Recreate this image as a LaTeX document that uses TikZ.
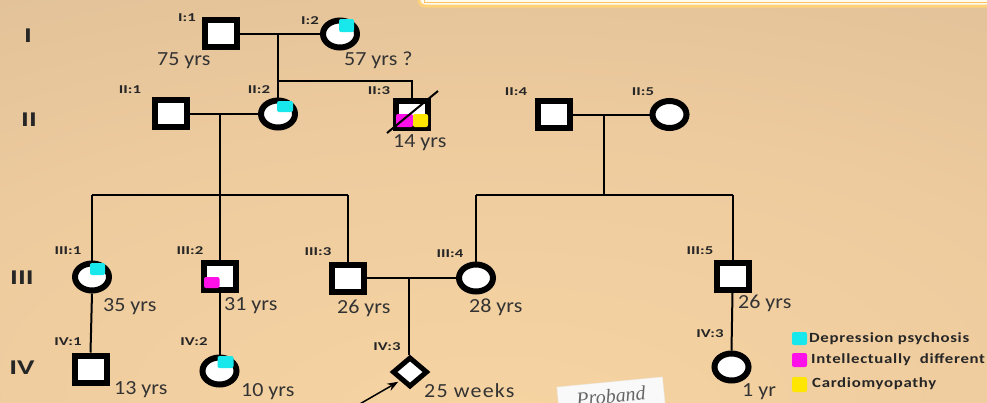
\documentclass[tikz,border=0pt]{standalone}
\usepackage{fontspec}
\setmainfont{Carlito}
\newfontfamily\agefont[FakeStretch=1.1]{Carlito}
\newfontfamily\idfont[FakeStretch=1.4]{Carlito}
\newfontfamily\legfont[FakeStretch=1.2,LetterSpace=5]{Carlito}
\newfontfamily\handfont{Liberation Serif}
\usetikzlibrary{shapes.geometric,arrows.meta}

\definecolor{bglight}{HTML}{F7D4A2}
\definecolor{bgmid}{HTML}{EDCB9E}
\definecolor{bgtan}{HTML}{D6B793}
\definecolor{bgdark}{HTML}{D2B390}
\definecolor{boxedge}{HTML}{FFD27A}
\definecolor{boxfill}{HTML}{FFFAEE}
\definecolor{depcol}{HTML}{18E8EC}
\definecolor{intcol}{HTML}{FF10E8}
\definecolor{carcol}{HTML}{FFE600}

\pgfdeclareradialshading{pageshade}{\pgfpoint{0bp}{-30bp}}{%
  color(0bp)=(bglight); color(30bp)=(bgmid); color(70bp)=(bgtan); color(100bp)=(bgdark)}

\begin{document}
\begin{tikzpicture}[x=1pt,y=-1pt,
  male/.style={rectangle,draw=black,fill=white,line width=6pt,
    minimum width=32pt,minimum height=27pt,inner sep=0pt},
  female/.style={ellipse,draw=black,fill=white,line width=6pt,
    minimum width=34pt,minimum height=27pt,inner sep=0pt},
  unknownsex/.style={diamond,draw=black,fill=white,line width=5pt,
    minimum width=35pt,minimum height=30pt,inner sep=0pt},
  conn/.style={draw=black,line width=2pt},
  idlabel/.style={inner sep=0pt,font=\idfont\bfseries\fontsize{12}{12}\selectfont,text=black!85},
  genlabel/.style={inner sep=0pt,font=\idfont\bfseries\fontsize{21}{21}\selectfont,text=black!85},
  age/.style={inner sep=0pt,anchor=base west,font=\agefont\fontsize{20}{20}\selectfont,text=black!80},
  legtext/.style={inner sep=0pt,anchor=west,font=\legfont\bfseries\fontsize{14}{14}\selectfont,text=black!85},
  swatch/.style={rounded corners=2pt}]

\useasboundingbox (0,0) rectangle (987,402);
\shade[shading=pageshade] (0,0) rectangle (987,402);

% framed box running off the top edge
\draw[line width=3pt,draw=boxedge,fill=boxfill,rounded corners=6pt] (419,-20) rectangle (1010,6);
\draw[line width=0.8pt,draw=boxedge!80!orange] (424,-20) -- (424,2.5) -- (1010,2.5);

% generation numerals
\node[genlabel] (gI)   at (28,36)  {I};
\node[genlabel] (gII)  at (29,120) {II};
\node[genlabel] (gIII) at (22,278) {III};
\node[genlabel] (gIV)  at (22,368) {IV};

% marriage and descent points
\coordinate (m1) at (278,34);
\coordinate (s1) at (278,81);
\coordinate (m2) at (220,114);
\coordinate (m3) at (604,115);
\coordinate (lsib) at (220,195);
\coordinate (rsib) at (604,195);
\coordinate (m4) at (409,278);

% generation I
\node[male]   (I1) at (220.5,33) {};
\node[female] (I2) at (340,34) {};
% generation II
\node[male]   (II1) at (171,113) {};
\node[female] (II2) at (278,114) {};
\node[male]   (II3) at (412,114) {};
\node[male]   (II4) at (554,114.5) {};
\node[female] (II5) at (669.5,114.5) {};
% generation III
\node[female] (III1) at (92,277) {};
\node[male]   (III2) at (219.5,276) {};
\node[male]   (III3) at (347.5,278) {};
\node[female] (III4) at (476,278) {};
\node[male]   (III5) at (732.5,276) {};
% generation IV
\node[male]       (IV1)  at (90.5,369) {};
\node[female]     (IV2)  at (219.5,371) {};
\node[unknownsex] (IV3d) at (410,372) {};
\node[female]     (IV3r) at (731.5,367) {};

% connectors
\draw[conn] (I1.east |- m1) -- (I2.west);
\draw[conn] (m1) -- (II2.north);
\draw[conn] (s1) -- (s1 -| II3.north) -- (II3.north);
\draw[conn] (II1.east |- II2.west) -- (II2.west);
\draw[conn] (m2) -- (lsib);
\draw[conn] (III1.north |- lsib) -- (III3.north |- lsib);
\draw[conn] (III1.north |- lsib) -- (III1.north);
\draw[conn] (III2.north |- lsib) -- (III2.north);
\draw[conn] (III3.north |- lsib) -- (III3.north);
\draw[conn] (II4.east) -- (II5.west);
\draw[conn] (m3) -- (rsib);
\draw[conn] (III4.north |- rsib) -- (III5.north |- rsib);
\draw[conn] (III4.north |- rsib) -- (III4.north);
\draw[conn] (III5.north |- rsib) -- (III5.north);
\draw[conn] (III3.east) -- (III4.west);
\draw[conn] (m4) -- (m4 |- IV3d.north);
\draw[conn] (III1.south) -- (IV1.north);
\draw[conn] (III2.south) -- (IV2.north);
\draw[conn] (III5.south) -- (IV3r.north);

% affected markers
\fill[depcol,swatch] ([shift={(-1,-15)}]I2.center) rectangle ([shift={(14,-2)}]I2.center);
\fill[depcol,swatch] ([shift={(-1,-13)}]II2.center) rectangle ([shift={(15,-2)}]II2.center);
\fill[depcol,swatch] ([shift={(-2,-14)}]III1.center) rectangle ([shift={(13,-2)}]III1.center);
\fill[depcol,swatch] ([shift={(-2,-15)}]IV2.center) rectangle ([shift={(14,-3)}]IV2.center);
\fill[intcol,swatch] ([shift={(-15.5,1)}]III2.center) rectangle ([shift={(0,12)}]III2.center);
\fill[intcol,swatch] ([shift={(-16,0)}]II3.center) rectangle ([shift={(1,13)}]II3.center);
\fill[carcol,swatch] ([shift={(1,0)}]II3.center) rectangle ([shift={(16,13)}]II3.center);
% deceased stroke
\coordinate (dA) at ([shift={(-25,19)}]II3.center);
\coordinate (dB) at ([shift={(26,-23)}]II3.center);
\draw[conn] (dA) -- (dB);

% proband arrow
\coordinate (ptail) at (358,405);
\draw[conn,line width=1.5pt,shorten >=2pt,-{Stealth[length=11pt,width=8pt]}] (ptail) -- (IV3d.south west);

% individual numbers
\node[idlabel] (lI1)   at (187,18)  {I:1};
\node[idlabel] (lI2)   at (310,21)  {I:2};
\node[idlabel] (lII1)  at (130,90)  {II:1};
\node[idlabel] (lII2)  at (259,90)  {II:2};
\node[idlabel] (lII3)  at (379,91)  {II:3};
\node[idlabel] (lII4)  at (516,92)  {II:4};
\node[idlabel] (lII5)  at (643,92)  {II:5};
\node[idlabel] (lIII1) at (68,251)  {III:1};
\node[idlabel] (lIII2) at (190,251) {III:2};
\node[idlabel] (lIII3) at (318,252) {III:3};
\node[idlabel] (lIII4) at (450,254) {III:4};
\node[idlabel] (lIII5) at (700,251) {III:5};
\node[idlabel] (lIV1)  at (68,342)  {IV:1};
\node[idlabel] (lIV2)  at (194,342) {IV:2};
\node[idlabel] (lIV3d) at (387,347) {IV:3};
\node[idlabel] (lIV3r) at (710,334) {IV:3};

% ages
\node[age] (aI1)   at (157,65)  {75 yrs};
\node[age] (aI2)   at (344,65)  {57 yrs ?};
\node[age] (aII3)  at (393,147) {14 yrs};
\node[age] (aIII1) at (103,311) {35 yrs};
\node[age] (aIII2) at (224,310) {31 yrs};
\node[age] (aIII3) at (337,313) {26 yrs};
\node[age] (aIII4) at (469,312) {28 yrs};
\node[age] (aIII5) at (738,308) {26 yrs};
\node[age] (aIV1)  at (114,394) {13 yrs};
\node[age] (aIV2)  at (241,396) {10 yrs};
\node[age,font=\agefont\fontsize{20}{20}\selectfont\addfontfeature{LetterSpace=6}] (aIV3d) at (424,397) {25 weeks};
\node[age] (aIV3r) at (742,396) {1 yr};

% legend
\fill[depcol,swatch] (792,332) rectangle (807,345);
\fill[intcol,swatch] (792,353) rectangle (807,367);
\fill[carcol,swatch] (792,377) rectangle (807,392);
\node[legtext] (lg1) at (809,339) {Depression psychosis};
\node[legtext] (lg2) at (811,360) {Intellectually\ \ different};
\node[legtext] (lg3) at (812,384) {Cardiomyopathy};

% handwritten slip at the bottom
\node[fill=white!95!gray,draw=white!85!gray,line width=0.4pt,rotate=5.5,
  minimum width=106pt,minimum height=28pt,inner sep=0pt,
  font=\handfont\itshape\fontsize{20}{20}\selectfont,text=black!60] (slip) at (611,396) {Proband};
\end{tikzpicture}
\end{document}
